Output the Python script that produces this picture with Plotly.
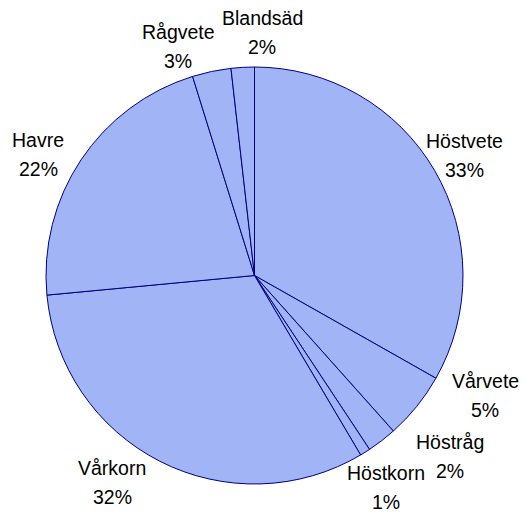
import plotly.graph_objects as go

labels = ["Höstvete", "Vårvete", "Höstråg", "Höstkorn", "Vårkorn", "Havre", "Rågvete", "Blandsäd"]
values = [33.2, 5.2, 2.3, 0.8, 32.0, 21.7, 3.0, 1.8]

# label block centres (pixels in the 525x515 canvas)
label_pos = [(464, 156), (485, 396), (450, 457), (386, 488), (112, 483), (38, 155), (178, 47), (262, 33)]

W, H = 525, 515
cx, cy, R = 254.5, 275.5, 208.5

fig = go.Figure(go.Pie(
    labels=labels, values=values, sort=False, direction="clockwise", rotation=0,
    textinfo="none", hoverinfo="label+percent",
    marker=dict(colors=["#A0B4F6"] * len(values), line=dict(color="#000080", width=1)),
    domain=dict(x=[(cx - R) / W, (cx + R) / W], y=[1 - (cy + R) / H, 1 - (cy - R) / H]),
    showlegend=False,
))

total = sum(values)
annots = []
for lab, v, (px, py) in zip(labels, values, label_pos):
    pct = f"{round(v / total * 100)}%"
    for txt, dy in ((lab, -15), (pct, 14)):
        annots.append(dict(x=px / W, y=1 - (py + dy) / H, xref="paper", yref="paper",
                           text=txt, showarrow=False, xanchor="center", yanchor="middle",
                           font=dict(family="Liberation Sans, Arial", size=19.5, color="black")))

fig.update_layout(width=W, height=H, margin=dict(l=0, r=0, t=0, b=0),
                  paper_bgcolor="white", plot_bgcolor="white", annotations=annots)
fig.write_html("out.html", config={"displayModeBar": False},
               post_script="document.body.style.margin='0';document.body.style.overflow='hidden';")
